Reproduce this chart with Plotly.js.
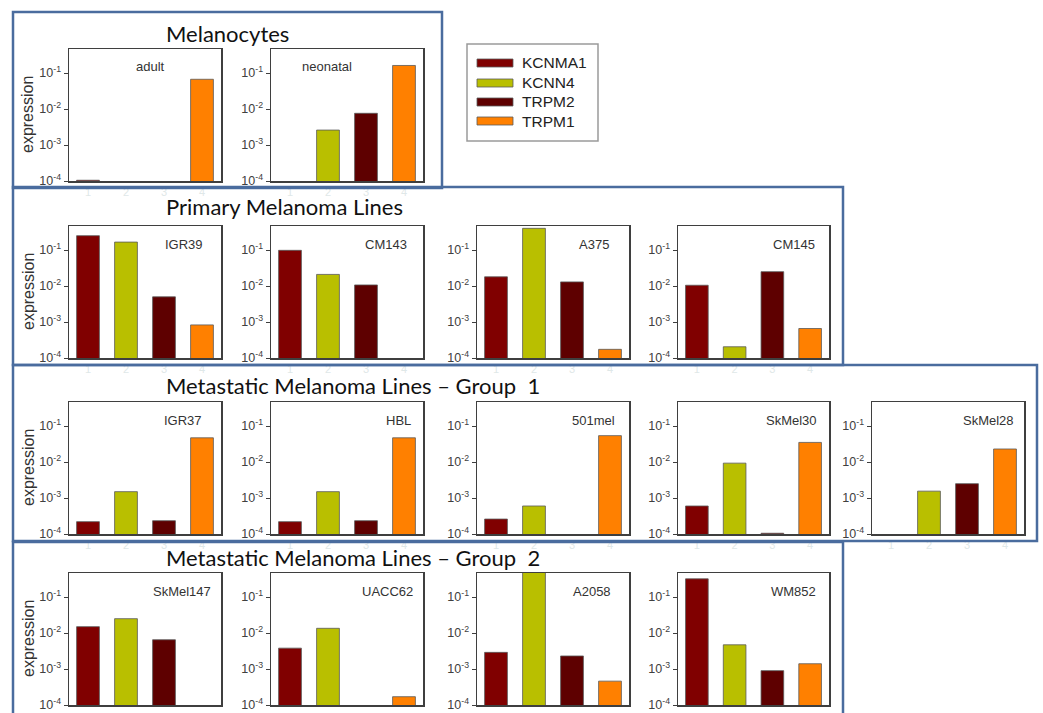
<!DOCTYPE html>
<html>
<head>
<meta charset="utf-8">
<script src="https://cdn.plot.ly/plotly-3.0.1.min.js"></script>
<style>html,body{margin:0;padding:0;background:#fff;}#chart{width:1043px;height:713px;}</style>
</head>
<body>
<div id="chart"></div>
<script>
// ---------- DATA ----------
const samples = ['adult','neonatal','IGR39','CM143','A375','CM145','IGR37','HBL','501mel','SkMel30','SkMel28','SkMel147','UACC62','A2058','WM852'];
const genes = ['KCNMA1','KCNN4','TRPM2','TRPM1'];
const KCNMA1 = [1.05e-4, null, 0.25, 0.098, 0.018, 0.0105, 0.00022, 0.00022, 0.00026, 0.0006, null, 0.015, 0.0038, 0.0029, 0.32];
const KCNN4  = [null, 0.0026, 0.166, 0.021, 0.40, 0.000205, 0.0015, 0.0015, 0.0006, 0.0093, 0.00155, 0.025, 0.0135, 0.8, 0.0047];
const TRPM2  = [null, 0.0076, 0.005, 0.0107, 0.013, 0.025, 0.000234, 0.000234, null, 1.05e-4, 0.0025, 0.0065, null, 0.0023, 0.0009];
const TRPM1  = [0.067, 0.162, 0.00083, null, 0.000174, 0.00066, 0.047, 0.047, 0.054, 0.035, 0.023, null, 0.00017, 0.00046, 0.0014];
const categories = [1, 2, 3, 4];
const sectionTitles = ['Melanocytes','Primary Melanoma Lines','Metastatic Melanoma Lines \u2013 Group  1','Metastatic Melanoma Lines \u2013 Group  2'];
const yTickVals = [1e-4, 1e-3, 1e-2, 1e-1];
const yTickText = ['10<sup>-4</sup>','10<sup>-3</sup>','10<sup>-2</sup>','10<sup>-1</sup>'];
const yTitle = 'expression';

// ---------- LAYOUT CONFIG ----------
const W = 1043, H = 713;
const colors = ['#800000', '#b9bf00', '#5e0000', '#ff8000'];
const series = [KCNMA1, KCNN4, TRPM2, TRPM1];
const cols = [[69,221],[271,423],[477,629],[678,829],[872,1024]];
const rows = [[49,181],[226,358],[402,534],[573,705]];
const panelRow = [0,0,1,1,1,1,2,2,2,2,2,3,3,3,3];
const panelCol = [0,1,0,1,2,3,0,1,2,3,4,0,1,2,3];
// label placement: [x px, anchor]
const labelPos = [[150,'center'],[300,'left'],[205,'right'],[409,'right'],[611,'right'],[817,'right'],
                  [204,'right'],[413,'right'],[617,'right'],[819,'right'],[1016,'right'],
                  [213,'right'],[415,'right'],[613,'right'],[818,'right']];
const titleY = [33, 207, 385, 557];
const boxes = [[13,12,442,188],[13,187,843,365],[13,365,1037,541],[13,542,843,730]];

const px = x => x / W;
const py = y => 1 - y / H;

const traces = [];
const layout = {
  width: W, height: H,
  margin: {l:0, r:0, t:0, b:0},
  paper_bgcolor: '#fff', plot_bgcolor: '#fff',
  showlegend: false,
  font: {family: 'Liberation Sans, Arial, sans-serif', color: '#333'},
  bargap: 0.4,
  annotations: [], shapes: []
};

samples.forEach((s, i) => {
  const n = i === 0 ? '' : String(i + 1);
  const c = cols[panelCol[i]], r = rows[panelRow[i]];
  traces.push({
    type: 'bar',
    x: categories,
    y: series.map(arr => arr[i]),
    marker: {color: colors, line: {color: 'rgba(90,90,90,0.8)', width: 1}},
    width: 0.6,
    xaxis: 'x' + n, yaxis: 'y' + n,
    hoverinfo: 'y', name: s
  });
  layout['xaxis' + n] = {
    domain: [px(c[0]), px(c[1])], anchor: 'y' + n,
    range: [0.5, 4.5], tickvals: categories, ticks: '',
    showticklabels: panelRow[i] < 3,
    tickfont: {size: 11, color: '#dfe8e8'},
    showline: true, mirror: true, linecolor: '#3f3f3f', linewidth: 1.5,
    showgrid: false, zeroline: false, fixedrange: true
  };
  layout['yaxis' + n] = {
    domain: [py(r[1]), py(r[0])], anchor: 'x' + n,
    type: 'log', range: [-4, -0.333],
    tickvals: yTickVals, ticktext: yTickText,
    ticks: 'outside', ticklen: 4, tickcolor: '#3f3f3f', tickwidth: 1,
    tickfont: {size: 12.5, color: '#404040'},
    showline: true, mirror: true, linecolor: '#3f3f3f', linewidth: 1.5,
    showgrid: false, zeroline: false, fixedrange: true
  };
  // panel label
  layout.annotations.push({
    text: s, xref: 'paper', yref: 'paper',
    x: px(labelPos[i][0]), y: py(r[0] + 18),
    xanchor: labelPos[i][1], yanchor: 'middle', showarrow: false,
    font: {size: 13, color: '#333', family: 'Liberation Sans, Arial, sans-serif'}
  });
});

// y axis titles on first column
rows.forEach(r => {
  layout.annotations.push({
    text: yTitle, xref: 'paper', yref: 'paper',
    x: px(28), y: py((r[0] + r[1]) / 2), textangle: -90,
    xanchor: 'center', yanchor: 'middle', showarrow: false,
    font: {size: 16, color: '#333', family: 'Liberation Sans, Arial, sans-serif'}
  });
});

// section titles
sectionTitles.forEach((t, k) => {
  layout.annotations.push({
    text: t, xref: 'paper', yref: 'paper',
    x: px(164), y: py(titleY[k]), xanchor: 'left', yanchor: 'middle',
    showarrow: false,
    font: {size: 22, color: '#111', family: 'Lato, Open Sans, sans-serif'}
  });
});

// section boxes
boxes.forEach(b => {
  layout.shapes.push({
    type: 'rect', xref: 'paper', yref: 'paper',
    x0: px(b[0]), x1: px(b[2]), y0: py(b[3]), y1: py(b[1]),
    line: {color: '#4a6c9e', width: 2.5}, fillcolor: 'rgba(0,0,0,0)', layer: 'above'
  });
});

// legend (manual)
layout.shapes.push({
  type: 'rect', xref: 'paper', yref: 'paper',
  x0: px(467), x1: px(598), y0: py(141), y1: py(44),
  line: {color: '#9a9a9a', width: 1.5}, fillcolor: 'rgba(0,0,0,0)'
});
const legY = [63, 83, 102, 121];
genes.forEach((g, k) => {
  layout.shapes.push({
    type: 'rect', xref: 'paper', yref: 'paper',
    x0: px(477), x1: px(513), y0: py(legY[k] + 4), y1: py(legY[k] - 4),
    line: {color: 'rgba(90,90,90,0.8)', width: 1}, fillcolor: colors[k]
  });
  layout.annotations.push({
    text: g, xref: 'paper', yref: 'paper',
    x: px(520), y: py(legY[k]), xanchor: 'left', yanchor: 'middle', showarrow: false,
    font: {size: 15.5, color: '#222', family: 'Liberation Sans, Arial, sans-serif'}
  });
});

Plotly.newPlot('chart', traces, layout, {staticPlot: true, displayModeBar: false});
</script>
</body>
</html>
